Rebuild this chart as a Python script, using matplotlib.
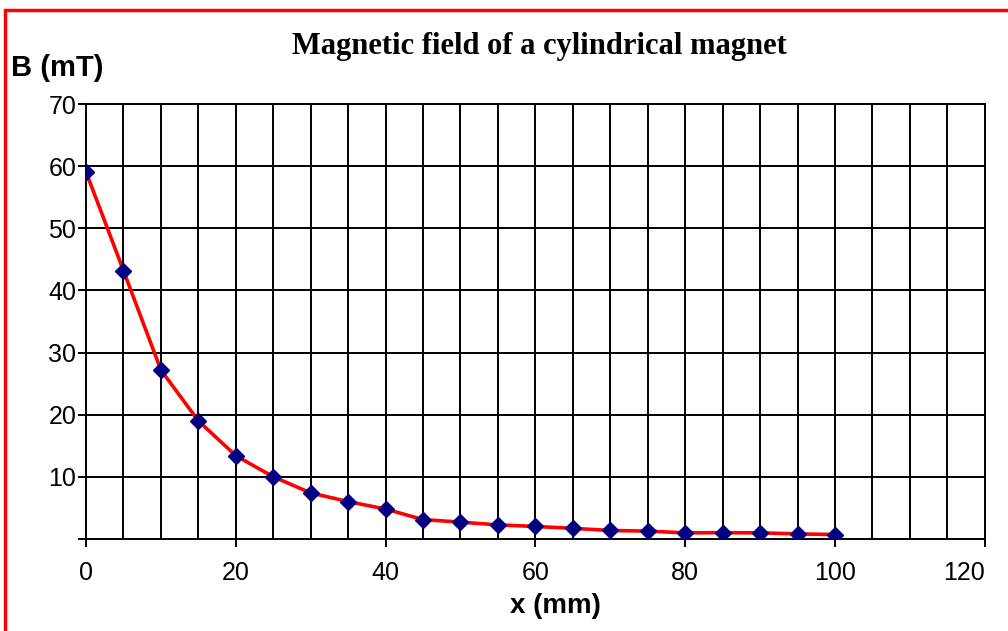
import matplotlib.pyplot as plt
from matplotlib.patches import Rectangle

# Dữ liệu
x_mm = [0, 5, 10, 15, 20, 25, 30, 35, 40, 45, 50, 55, 60, 65, 70, 75, 80, 85, 90, 95, 100]
b_mt = [59.1, 43.2, 27.2, 19.0, 13.4, 10.0, 7.4, 6.0, 4.8, 3.1, 2.7, 2.25, 2.0, 1.7,
        1.35, 1.25, 0.97, 1.0, 0.97, 0.8, 0.7]
x_ticks = [0, 20, 40, 60, 80, 100, 120]
y_ticks = [10, 20, 30, 40, 50, 60, 70]

fig = plt.figure(figsize=(10.08, 6.31), dpi=100)
ax = fig.add_axes([0.0853, 0.146, 0.8917, 0.689])

# Khung đỏ quanh hình
fig.patches.append(Rectangle((5 / 1008, -0.05), 1.1, 1 - 10 / 631 + 0.05,
                             transform=fig.transFigure, fill=False,
                             edgecolor='red', linewidth=2.5, zorder=10))

# Lưới
for xv in range(5, 125, 5):
    ax.axvline(xv, color='black', linewidth=1.4, zorder=1)
for yv in y_ticks:
    ax.axhline(yv, color='black', linewidth=1.4, zorder=1)

ax.plot(x_mm, b_mt, color='red', linewidth=2.6, zorder=3)
ax.plot(x_mm, b_mt, linestyle='none', marker='D', markersize=8,
        color='#000080', zorder=4)

ax.set_xlim(0, 120)
ax.set_ylim(0, 70)
ax.set_xticks(x_ticks)
ax.set_yticks([0] + y_ticks)
ax.set_yticklabels([''] + [str(v) for v in y_ticks])
ax.tick_params(axis='both', direction='out', length=6, width=1.4, color='black')
ax.tick_params(axis='x', pad=10)
ax.tick_params(axis='y', pad=1)
for lab in ax.get_xticklabels() + ax.get_yticklabels():
    lab.set_family('Liberation Sans')
    lab.set_fontsize(18)
ax.get_xticklabels()[-1].set_ha('right')  # nhãn 120 nằm sát mép phải

for s in ax.spines.values():
    s.set_linewidth(1.4)

fig.text(0.535, 0.927, 'Magnetic field of a cylindrical magnet', ha='center', va='center',
         family='Liberation Serif', fontweight='bold', fontsize=22)
fig.text(0.011, 0.893, 'B (mT)', ha='left', va='center',
         family='Liberation Sans', fontweight='bold', fontsize=21)
fig.text(0.551, 0.04, 'x (mm)', ha='center', va='center',
         family='Liberation Sans', fontweight='bold', fontsize=20)

fig.savefig('out.png', dpi=100)
